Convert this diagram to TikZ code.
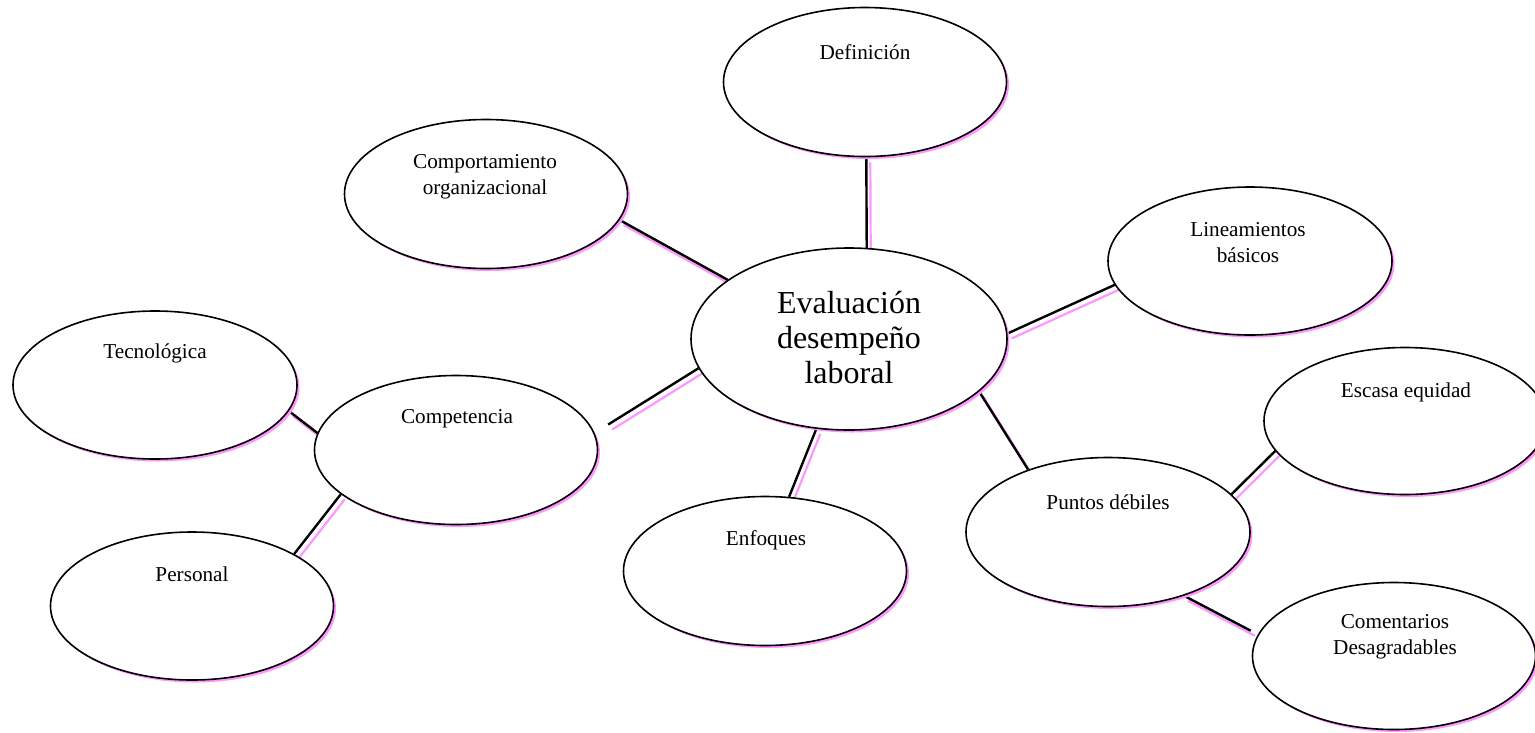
\documentclass[tikz,border=0pt]{standalone}
\usepackage{fontspec}
\setmainfont{Liberation Serif}
\usetikzlibrary{shapes.geometric,shadows,backgrounds}
\definecolor{shadowpink}{RGB}{255,150,255}
\tikzset{
  bubble/.style={ellipse, draw=black, line width=1.6pt, fill=white, inner sep=0pt,
    minimum width=283pt, minimum height=149pt,
    general shadow={fill=shadowpink, shadow xshift=2.5pt, shadow yshift=-2.5pt}},
  lbl/.style={font=\fontsize{21.2}{26}\selectfont, align=center, inner sep=0pt},
  biglbl/.style={font=\fontsize{32}{35}\selectfont, align=center, inner sep=0pt},
  link/.style={line width=2.4pt, draw=black,
    preaction={draw=shadowpink, line width=2.2pt,
      transform canvas={shift={(4pt,-5pt)}}}},
}
\begin{document}
\begin{tikzpicture}[x=1pt,y=-1pt]
\useasboundingbox (0,0) rectangle (1535,732);

% ellipses
\node[bubble, minimum width=316pt, minimum height=182pt] (eval) at (849,339) {};
\node[bubble] (def)    at (865,82)  {};
\node[bubble] (comp)   at (486,194) {};
\node[bubble, minimum width=284pt, minimum height=148pt] (lin) at (1250,261) {};
\node[bubble, minimum width=284pt, minimum height=148pt] (tec) at (155,385) {};
\node[bubble] (compet) at (456,450) {};
\node[bubble] (enf)    at (765,571) {};
\node[bubble, minimum width=284pt] (pun) at (1108,532) {};
\node[bubble, minimum width=282pt, minimum height=147pt] (esc) at (1405,421) {};
\node[bubble, minimum height=148pt] (per) at (192,606) {};
\node[bubble, minimum height=147pt] (com) at (1394,656) {};

% labels
\node[biglbl] (eval-t)   at (849,338)   {Evaluación\\desempeño\\laboral};
\node[lbl]    (def-t)    at (865,52)    {Definición};
\node[lbl]    (comp-t)   at (485,176.5) {Comportamiento\\organizacional};
\node[lbl]    (lin-t)    at (1248,242.5) {Lineamientos\\básicos};
\node[lbl]    (tec-t)    at (155,353)   {Tecnológica};
\node[lbl]    (compet-t) at (457,419)   {Competencia};
\node[lbl]    (enf-t)    at (766,540)   {Enfoques};
\node[lbl]    (pun-t)    at (1108,502)  {Puntos débiles};
\node[lbl]    (esc-t)    at (1406,392)  {Escasa equidad};
\node[lbl]    (per-t)    at (192,574)   {Personal};
\node[lbl]    (com-t)    at (1395,637)  {Comentarios\\Desagradables};

% connectors, drawn behind the ellipses
\begin{scope}[on background layer]
\draw[link] (def.-89) -- (eval.79.4);
\draw[link] (comp.-11.1) -- (eval.154.3);
\draw[link] (eval.2.1) -- (lin.190.5);
\draw[link, shorten >=16pt] (eval.191.4) -- (compet.7.5);
\draw[link] (eval.-110) -- (enf.72.2);
\draw[link] (eval.-22.8) -- (pun.142.4);
\draw[link] (pun.17.7) -- (esc.193.9);
\draw[link, shorten >=8pt] (pun.-40.4) -- (com.171.7);
\draw[link] (tec.-11.7) -- (compet.173);
\draw[link] (compet.201) -- (per.27.9);
\end{scope}
\end{tikzpicture}
\end{document}
